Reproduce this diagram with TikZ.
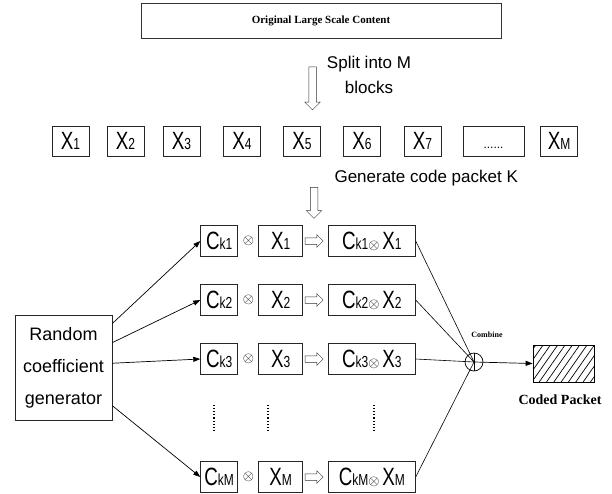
\documentclass[tikz,border=0pt]{standalone}
\usepackage{fontspec}
\setmainfont{Liberation Sans}
\newfontfamily\tallsf[FakeStretch=0.75]{Liberation Sans}
\newfontfamily\titlerm{Liberation Serif}
\usepackage{tikz}
\usetikzlibrary{shapes.arrows, shapes.geometric, arrows.meta, patterns.meta}
\newcommand{\blk}[2]{{\tallsf\fontsize{25}{25}\selectfont #1\fontsize{16}{16}\selectfont #2}}
\newcommand{\ox}{{\fontsize{14}{14}\selectfont$\otimes$}}
\tikzset{
  cell/.style={rectangle, draw=black!85, line width=0.7pt, minimum height=31pt, inner sep=2pt, align=center},
  blkbox/.style={cell, minimum width=37pt, minimum height=30pt},
  coef/.style={cell, minimum width=37pt, anchor=east},
  dat/.style={cell, minimum width=44pt, anchor=east},
  prod/.style={cell, minimum width=87pt, anchor=west},
  hollow/.style={single arrow, draw=black!80, line width=0.5pt, inner sep=3.5pt, single arrow head extend=4pt},
  arr/.style={-{Triangle[length=7pt, width=5pt]}, line width=0.7pt},
  wire/.style={line width=0.6pt},
  vdots/.style={dotted, line width=1.1pt},
  lbl/.style={font=\fontsize{17}{25}\selectfont, align=center},
  serifbf/.style={font=\titlerm\bfseries\fontsize{#1}{#1}\selectfont},
}
\begin{document}
\begin{tikzpicture}[x=1pt, y=-1pt]
\useasboundingbox (0,0) rectangle (612,493);

% content and split step
\node[draw=black!80, line width=0.7pt, minimum width=360pt, minimum height=35pt, serifbf=11] (src) at (321,20.5) {Original Large Scale Content};
\node[hollow, shape border rotate=270, minimum height=43pt] (split) at (312.5,86.5) {};
\node[lbl] (splitlbl) at (369,75) {Split into M\\blocks};

% blocks
\foreach \i/\x in {1/70.5, 2/125.5, 3/181.5, 4/242, 5/302, 6/362, 7/422.5}
  \node[blkbox] (x\i) at (\x,141) {\blk{X}{\i}};
\node[blkbox, minimum width=61pt] (xdots) at (493.5,141) {\fontsize{12}{12}\selectfont\rule{0pt}{14pt}......};
\node[blkbox] (xM) at (559,141) {\blk{X}{M}};

% coding step
\node[hollow, shape border rotate=270, minimum height=31pt] (genarr) at (314,201) {};
\node[lbl, anchor=west] (genlbl) at (331,178) {Generate code packet K};

\node[cell, minimum width=97pt, minimum height=105pt, font=\fontsize{18}{32}\selectfont] (rng) at (63.5,367.5) {Random\\coefficient\\generator};

\foreach \r/\y in {1/241, 2/300, 3/359, M/477} {
  \node[coef] (c\r) at (238,\y) {\blk{C}{k\r}};
  \node (o\r) at (248.5,\y) {\ox};
  \node[dat] (d\r) at (303,\y) {\blk{X}{\r}};
  \node[hollow, minimum height=18pt, inner sep=3pt, single arrow head extend=3pt] (t\r) at (312.5,\y) {};
  \node[prod] (p\r) at (328,\y) {\blk{C}{k\r}\ox\ \blk{X}{\r}};
}
\foreach \x in {214, 268, 374}
  \draw[vdots] (\x,405) -- (\x,430);

\draw[arr] (rng.42) -- (c1.west);
\draw[arr] (rng.27) -- (c2.west);
\draw[arr] (rng.5) -- (c3.west);
\draw[arr] (rng.-38) -- (cM.west);

% combine
\node[circle, draw, line width=0.7pt, minimum size=18pt, inner sep=0pt] (comb) at (474,362) {};
\draw[wire] (comb.north) -- (comb.south);
\foreach \r in {1,2,3,M}
  \draw[wire] (p\r.east) -- (comb.center);
\node[serifbf=8] (comblbl) at (487,335) {Combine};

\node[draw, line width=0.7pt, minimum width=61pt, minimum height=37pt, pattern={Lines[angle=55, distance=6pt, line width=0.7pt]}] (pkt) at (563.5,363.5) {};
\draw[arr] (comb.center) -- (pkt.west);
\node[serifbf=14] (pktlbl) at (560,400) {Coded Packet};
\end{tikzpicture}
\end{document}
